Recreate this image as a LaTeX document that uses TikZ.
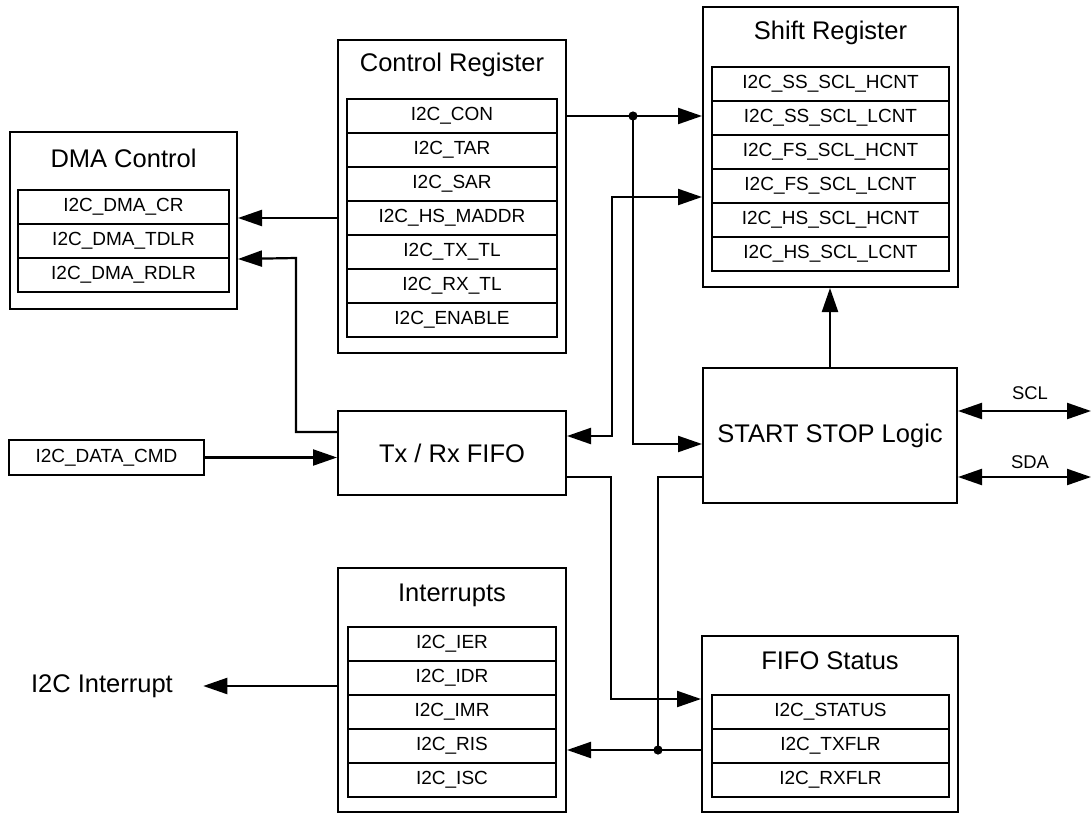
\documentclass[tikz,border=0pt]{standalone}
\usepackage{fontspec}
\setmainfont{Liberation Sans}
\usetikzlibrary{arrows.meta}
\begin{document}
\begin{tikzpicture}[x=0.5pt,y=-0.5pt,
  box/.style={draw, line width=1pt, inner sep=0pt, fill=white},
  title/.style={font=\fontsize{12.75}{15}\selectfont, inner sep=0pt},
  rowtxt/.style={box, font=\fontsize{9.5}{11}\selectfont, minimum height=17pt},
  conn/.style={line width=1.1pt},
  arr/.style={conn, -{Triangle[length=12pt,width=8pt]}},
  arrb/.style={conn, {Triangle[length=12pt,width=8pt]}-{Triangle[length=12pt,width=8pt]}},
  dot/.style={fill=black}]
\useasboundingbox (0,0) rectangle (1092,814);

% ---------- DMA Control ----------
\node[box, minimum width=113.5pt, minimum height=88.5pt] (dma) at (123.5,220.5) {};
\node[title] (dmat) at (123.5,158) {DMA Control};
\node[rowtxt, minimum width=105.5pt] (d1) at (123.5,207) {I2C\_DMA\_CR};
\node[rowtxt, minimum width=105.5pt] (d2) at (123.5,241) {I2C\_DMA\_TDLR};
\node[rowtxt, minimum width=105.5pt] (d3) at (123.5,275) {I2C\_DMA\_RDLR};

% ---------- Control Register ----------
\node[box, minimum width=114pt, minimum height=156.5pt] (ctrl) at (452,196.5) {};
\node[title] (ctrlt) at (452,65) {Control Register};
\node[rowtxt, minimum width=105pt] (c1) at (452,116) {I2C\_CON};
\node[rowtxt, minimum width=105pt] (c2) at (452,150) {I2C\_TAR};
\node[rowtxt, minimum width=105pt] (c3) at (452,184) {I2C\_SAR};
\node[rowtxt, minimum width=105pt] (c4) at (452,218) {I2C\_HS\_MADDR};
\node[rowtxt, minimum width=105pt] (c5) at (452,252) {I2C\_TX\_TL};
\node[rowtxt, minimum width=105pt] (c6) at (452,286) {I2C\_RX\_TL};
\node[rowtxt, minimum width=105pt] (c7) at (452,320) {I2C\_ENABLE};

% ---------- Shift Register ----------
\node[box, minimum width=127.5pt, minimum height=140pt] (sr) at (830.5,147) {};
\node[title] (srt) at (830.5,33) {Shift Register};
\node[rowtxt, minimum width=118.5pt] (s1) at (830.5,84) {I2C\_SS\_SCL\_HCNT};
\node[rowtxt, minimum width=118.5pt] (s2) at (830.5,118) {I2C\_SS\_SCL\_LCNT};
\node[rowtxt, minimum width=118.5pt] (s3) at (830.5,152) {I2C\_FS\_SCL\_HCNT};
\node[rowtxt, minimum width=118.5pt] (s4) at (830.5,186) {I2C\_FS\_SCL\_LCNT};
\node[rowtxt, minimum width=118.5pt] (s5) at (830.5,220) {I2C\_HS\_SCL\_HCNT};
\node[rowtxt, minimum width=118.5pt] (s6) at (830.5,254) {I2C\_HS\_SCL\_LCNT};

% ---------- START STOP Logic ----------
\node[box, title, minimum width=127pt, minimum height=67.5pt] (ss) at (830,435.5) {START STOP Logic};

% ---------- Tx / Rx FIFO ----------
\node[box, title, minimum width=114pt, minimum height=42pt] (fifo) at (452,453) {Tx / Rx FIFO};

% ---------- I2C_DATA_CMD ----------
\node[rowtxt, minimum width=97.5pt, minimum height=17.5pt] (dcmd) at (106.5,457.5) {I2C\_DATA\_CMD};

% ---------- Interrupts ----------
\node[box, minimum width=114pt, minimum height=122pt] (int) at (452,690) {};
\node[title] (intt) at (452,595) {Interrupts};
\node[rowtxt, minimum width=104pt] (i1) at (452,644) {I2C\_IER};
\node[rowtxt, minimum width=104pt] (i2) at (452,678) {I2C\_IDR};
\node[rowtxt, minimum width=104pt] (i3) at (452,712) {I2C\_IMR};
\node[rowtxt, minimum width=104pt] (i4) at (452,746) {I2C\_RIS};
\node[rowtxt, minimum width=104pt] (i5) at (452,780) {I2C\_ISC};

% ---------- FIFO Status ----------
\node[box, minimum width=128pt, minimum height=88pt] (fs) at (830,724) {};
\node[title] (fst) at (830,661) {FIFO Status};
\node[rowtxt, minimum width=118.5pt] (f1) at (830.5,712) {I2C\_STATUS};
\node[rowtxt, minimum width=118.5pt] (f2) at (830.5,746) {I2C\_TXFLR};
\node[rowtxt, minimum width=118.5pt] (f3) at (830.5,780) {I2C\_RXFLR};

% ---------- external labels ----------
\node[title] (irq) at (102,686) {I2C Interrupt};
\node[font=\fontsize{9.2}{11}\selectfont, inner sep=0pt] (scl) at (1030,393) {SCL};
\node[font=\fontsize{9.2}{11}\selectfont, inner sep=0pt] (sda) at (1030,462) {SDA};
\coordinate (sclend) at (1091,411);
\coordinate (sdaend) at (1091,477);

% ---------- junctions ----------
\coordinate (j1) at (633,116);
\coordinate (j2) at (658,750);

% ---------- connectors ----------
\draw[arr] (ctrl.east |- c1) -- (sr.west |- c1);
\draw[arr] (j1) |- (ss.west |- 0,444);
\fill[dot] (j1) circle (2.3pt);
\draw[arrb] (fifo.east |- 0,436) -| (612,197) -- (sr.west |- 0,197);
\draw[arr] (ss.north) -- (ss.north |- sr.south);
\draw[arrb] (ss.east |- sclend) -- (sclend);
\draw[arrb] (ss.east |- sdaend) -- (sdaend);
\draw[arr] (fifo.east |- 0,477) -| (611,699) -- (fs.west |- 0,699);
\draw[conn] (ss.west |- 0,477) -| (j2);
\draw[arr] (fs.west |- j2) -- (int.east |- j2);
\fill[dot] (j2) circle (2.3pt);
\draw[arr] (int.west |- 0,686) -- ([xshift=15pt]irq.east);
\draw[arr] (dcmd.east) -- (fifo.west |- dcmd.east);
\draw[arr] (ctrl.west |- c4) -- (dma.east |- c4);
\draw[arr] (fifo.west |- 0,432) -| (296,258) -- (dma.east |- d2.south);
\end{tikzpicture}
\end{document}
